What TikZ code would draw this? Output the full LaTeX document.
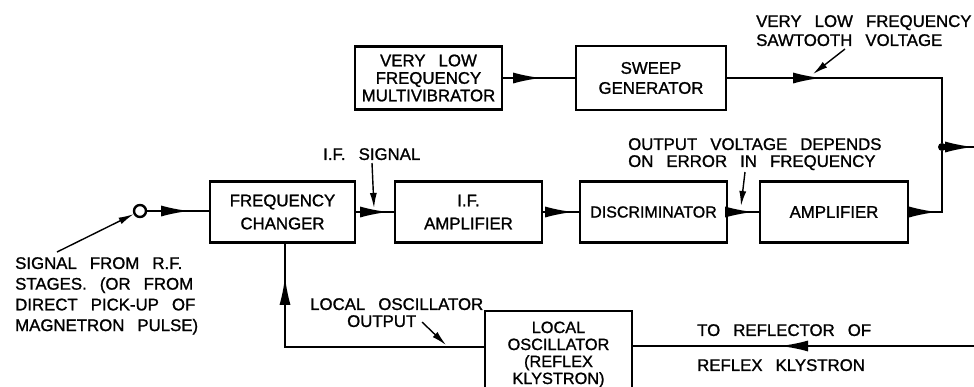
\documentclass[tikz,border=0pt]{standalone}
\usepackage{fontspec}
\setmainfont{Liberation Sans}[WordSpace=2.8,FakeBold=1.2]
\usetikzlibrary{arrows.meta,decorations.markings}
\tikzset{
  box/.style={draw,line width=2.4pt,inner sep=0pt,align=center,font=\fontsize{16.8}{19}\selectfont},
  ln/.style={line width=2pt},
  lead/.style={line width=1.4pt,-{Latex[length=15pt,width=7pt]}},
  lbl/.style={inner sep=0pt,align=left,font=\fontsize{16.8}{19}\selectfont},
  arrowat/.style={postaction={decorate},decoration={markings,mark=at position #1 with {\arrow{Latex[length=28pt,width=11pt]}}}}
}
\begin{document}
\begin{tikzpicture}[x=1pt,y=-1pt]
\useasboundingbox (0,0) rectangle (974,386);
% blocks
\node[box,minimum width=147pt,minimum height=63pt,font=\fontsize{16.8}{17.5}\selectfont] (mv) at (428.5,78) {VERY LOW\\FREQUENCY\\MULTIVIBRATOR};
\node[box,minimum width=150pt,minimum height=64pt,font=\fontsize{16.8}{20}\selectfont] (sg) at (651,78) {SWEEP\\GENERATOR};
\node[box,minimum width=145pt,minimum height=61pt,font=\fontsize{16.8}{23}\selectfont] (fc) at (282.5,212) {FREQUENCY\\CHANGER};
\node[box,minimum width=147pt,minimum height=61pt,font=\fontsize{16.8}{23}\selectfont] (ifa) at (468.5,212) {I.F.\\AMPLIFIER};
\node[box,minimum width=147pt,minimum height=61pt,font=\fontsize{16}{19}\selectfont] (disc) at (653.5,212) {DISCRIMINATOR};
\node[box,minimum width=148pt,minimum height=61pt] (amp) at (834,212) {AMPLIFIER};
\node[box,minimum width=147pt,minimum height=87pt,font=\fontsize{16.3}{17}\selectfont] (lo) at (558.5,354.5) {LOCAL\\OSCILLATOR\\(REFLEX\\KLYSTRON)};
% terminals and junctions
\node[circle,draw,line width=2.4pt,minimum size=12pt,inner sep=0pt] (term) at (140,211) {};
\node[circle,fill,minimum size=8pt,inner sep=0pt] (dot) at (942,147) {};
\coordinate (c1) at (942,78);
\coordinate (c2) at (942,212);
\coordinate (out) at (974,147);
\coordinate (lc) at (285,347);
\coordinate (rin) at (974,346);
% connectors
\draw[ln,arrowat=38pt] (mv.east) -- (mv.east -| sg.west);
\draw[ln,arrowat=94pt] (sg.east) -- (c1) -- (dot);
\draw[ln,arrowat=28pt] (amp.east) -- (c2) -- (dot);
\draw[ln,arrowat=27pt] (dot.east) -- (out);
\draw[ln,arrowat=42pt] (term.east) -- (term.east -| fc.west);
\draw[ln,arrowat=32pt] (fc.east) -- (ifa.west);
\draw[ln,arrowat=30pt] (ifa.east) -- (disc.west);
\draw[ln,arrowat=25pt] (disc.east) -- (amp.west);
\draw[ln,arrowat=269pt] (lo.west |- lc) -- (lc) -- (lc |- fc.south);
\draw[ln,arrowat=194pt] (rin) -- (lo.east |- rin);
% labels
\node[lbl,anchor=north west] (saw) at (756,15) {VERY LOW FREQUENCY\\SAWTOOTH VOLTAGE};
\node[lbl,anchor=north west,font=\fontsize{16.8}{17}\selectfont] (outv) at (628,138) {OUTPUT VOLTAGE DEPENDS\\ON ERROR IN FREQUENCY};
\node[lbl,anchor=north west] (ifs) at (323,148) {I.F. SIGNAL};
\node[lbl,anchor=north west] (losc) at (310,298) {LOCAL OSCILLATOR};
\node[lbl,anchor=north west] (losc2) at (347,315) {OUTPUT};
\node[lbl,anchor=north west,font=\fontsize{16.8}{20.7}\selectfont] (sig) at (15,257) {SIGNAL FROM R.F.\\STAGES. (OR FROM\\DIRECT PICK-UP OF\\MAGNETRON PULSE)};
\node[lbl,anchor=north west] (refl1) at (697,324) {TO REFLECTOR OF};
\node[lbl,anchor=north west] (refl2) at (697,359) {REFLEX KLYSTRON};
% leaders
\coordinate (sawa) at (845,49);  \coordinate (sawb) at (813,74);
\coordinate (outa) at (745,172); \coordinate (outb) at (741,206);
\coordinate (ifsa) at (372,163); \coordinate (ifsb) at (374,208);
\coordinate (loa) at (422,322);  \coordinate (lob) at (446,345);
\coordinate (siga) at (57,252);
\draw[lead] (sawa) -- (sawb);
\draw[lead] (outa) -- (outb);
\draw[lead] (ifsa) -- (ifsb);
\draw[lead] (loa) -- (lob);
\draw[lead] (siga) -- (term);
\end{tikzpicture}
\end{document}
